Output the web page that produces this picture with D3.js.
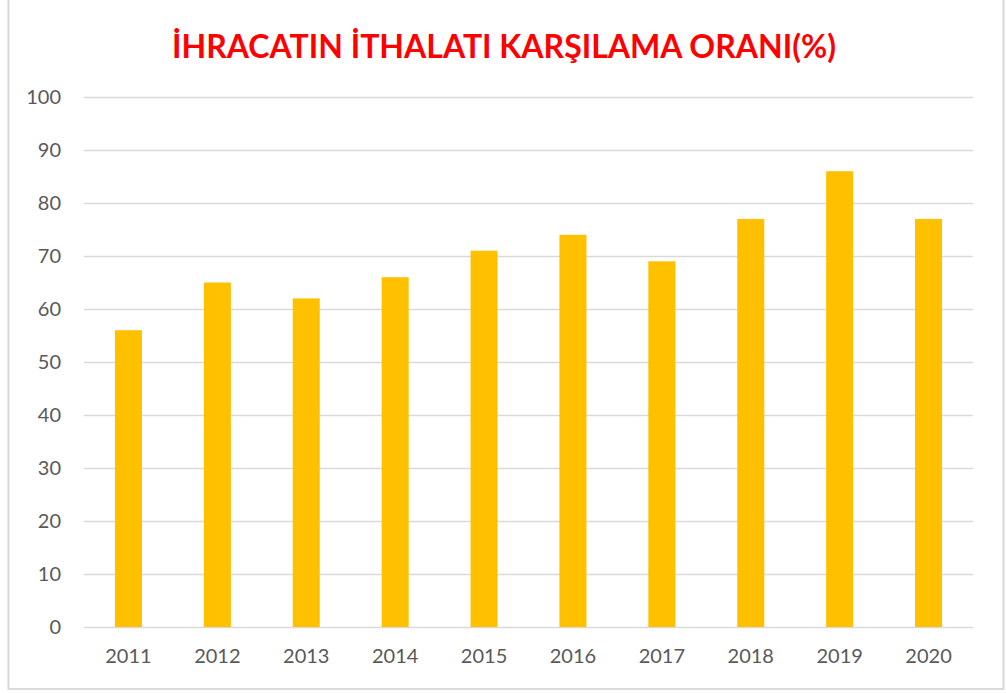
<!DOCTYPE html>
<html>
<head>
<meta charset="utf-8">
<script src="https://cdn.jsdelivr.net/npm/d3@7"></script>
<style>
  body { margin: 0; background: #fff; }
  text { font-family: Lato, "Open Sans", sans-serif; }
</style>
</head>
<body>
<svg id="chart" width="1006" height="693"></svg>
<script>
var years = ["2011", "2012", "2013", "2014", "2015", "2016", "2017", "2018", "2019", "2020"]
var ratios = [56, 65, 62, 66, 71, 74, 69, 77, 86, 77]
var yTicks = [0, 10, 20, 30, 40, 50, 60, 70, 80, 90, 100]
var title = "İHRACATIN İTHALATI KARŞILAMA ORANI(%)"

var svg = d3.select("#chart"),
	margin = {top: 97, right: 33, bottom: 66, left: 84},
	width = +svg.attr("width") - margin.left - margin.right,
	height = +svg.attr("height") - margin.top - margin.bottom,
	g = svg.append("g").attr("transform", "translate(" + margin.left + "," + margin.top + ")");

// outer frame
svg.append("rect")
	.attr("x", 8.5).attr("y", -2)
	.attr("width", 995).attr("height", 691)
	.attr("fill", "none")
	.attr("stroke", "#d9d9d9")
	.attr("stroke-width", 2);

svg.append("text")
	.attr("x", 504).attr("y", 58)
	.attr("text-anchor", "middle")
	.attr("fill", "#ff0000")
	.attr("font-size", 33)
	.attr("font-weight", "bold")
	.attr("textLength", 664)
	.attr("lengthAdjust", "spacingAndGlyphs")
	.text(title);

var xScale = d3.scaleBand()
	.domain(years)
	.range([0, width])
	.paddingInner(0.696)
	.paddingOuter(0.348);

var yScale = d3.scaleLinear()
	.domain([0, 100])
	.range([height, 0]);

// gridlines
g.append("g")
	.selectAll("line")
	.data(yTicks)
	.join("line")
		.attr("x1", 0).attr("x2", width)
		.attr("y1", function(d) { return Math.round(yScale(d)) + 0.5; })
		.attr("y2", function(d) { return Math.round(yScale(d)) + 0.5; })
		.attr("stroke", "#d9d9d9")
		.attr("stroke-width", 1.3);

var yAxis = d3.axisLeft(yScale).tickValues(yTicks).tickSize(0).tickPadding(23);
g.append("g")
	.attr("class", "axis y")
	.call(yAxis)
	.call(function(a) { a.select(".domain").remove(); })
	.selectAll("text")
		.attr("fill", "#595959")
		.attr("font-size", 20);

g.append("g")
	.selectAll("rect")
	.data(ratios)
	.join("rect")
		.attr("x", function(d, i) { return xScale(years[i]); })
		.attr("y", function(d) { return yScale(d); })
		.attr("width", xScale.bandwidth())
		.attr("height", function(d) { return height - yScale(d); })
		.attr("fill", "#ffc000");

var xAxis = d3.axisBottom(xScale).tickSize(0).tickPadding(22);
g.append("g")
	.attr("class", "axis x")
	.attr("transform", "translate(0," + height + ")")
	.call(xAxis)
	.call(function(a) { a.select(".domain").remove(); })
	.selectAll("text")
		.attr("fill", "#595959")
		.attr("font-size", 20);
</script>
</body>
</html>
